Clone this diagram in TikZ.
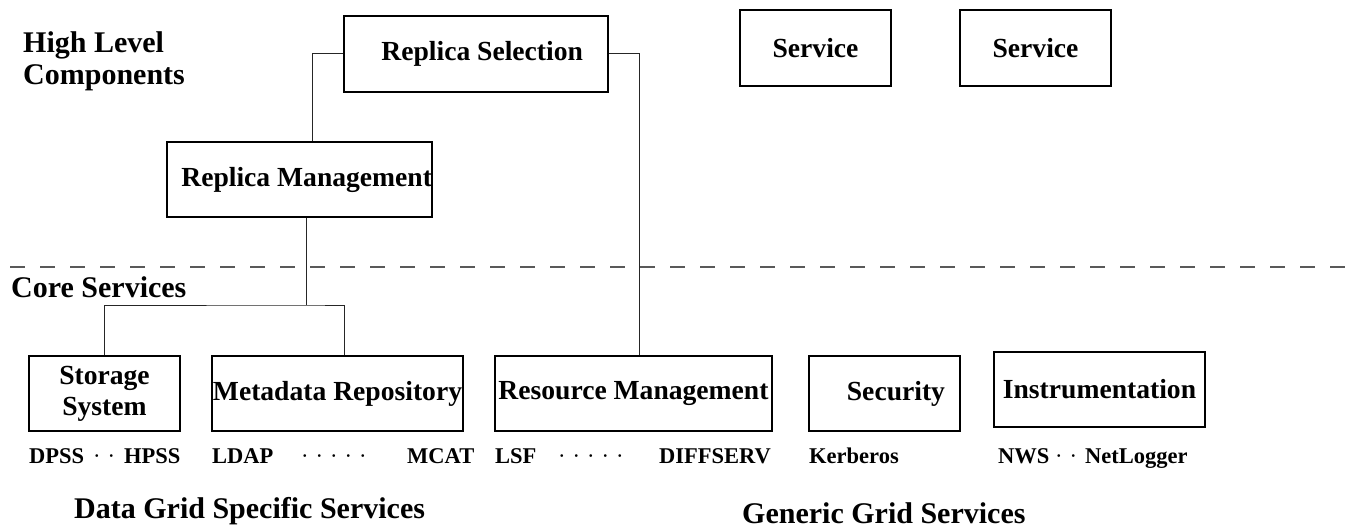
\documentclass[tikz,border=0pt]{standalone}
\usepackage{fontspec}
\setmainfont{Liberation Serif}
\newcommand{\dotgap}{\hspace{7pt}}
\begin{document}
\begin{tikzpicture}[x=1pt, y=-1pt,
  box/.style={draw, line width=1.2pt, inner sep=0pt, align=center, minimum height=75pt, font={\bfseries\fontsize{27.6}{31}\selectfont}},
  head/.style={anchor=base west, inner sep=0pt, align=left, font={\bfseries\fontsize{30}{32}\selectfont}},
  tool/.style={anchor=base west, inner sep=0pt, font={\bfseries\fontsize{22.5}{26}\selectfont}},
  dots/.style={anchor=base west, inner sep=0pt, font={\mdseries\fontsize{22.5}{26}\selectfont}},
  link/.style={line width=1pt, draw=black!85}]

\useasboundingbox (0,0) rectangle (1351,529);

\node[head] (hlc) at (23,85) {High Level\\Components};
\node[head] (core) at (11,298) {Core Services};
\node[head] (dgs) at (74,518) {Data Grid Specific Services};
\node[head] (ggs) at (742,523) {Generic Grid Services};

\node[box, minimum width=264pt, minimum height=76pt, text width=214pt, align=flush right] (sel) at (476,54) {Replica Selection};
\node[box, minimum width=151pt, minimum height=76pt] (srv1) at (815.5,48) {Service};
\node[box, minimum width=151pt, minimum height=76pt] (srv2) at (1035.5,48) {Service};
\node[box, minimum width=265pt, text width=265pt, align=flush right] (mgmt) at (299.5,179.5) {Replica Management};

\node[box, minimum width=151pt] (stor) at (104.5,393.5) {Storage\\System};
\node[box, minimum width=251pt] (meta) at (337.5,393.5) {Metadata Repository};
\node[box, minimum width=277pt] (res) at (633.5,393.5) {Resource Management};
\node[box, minimum width=151pt, text width=121pt, align=flush right] (sec) at (884.5,393.5) {Security};
\node[box, minimum width=211pt] (inst) at (1099.5,389.5) {Instrumentation};

\node[tool] (dpss) at (29,463) {DPSS};
\node[dots] (d1) at (93,463) {·\dotgap·};
\node[tool] (hpss) at (124,463) {HPSS};
\node[tool] (ldap) at (212,463) {LDAP};
\node[dots] (d2) at (301,463) {·\dotgap·\dotgap·\dotgap·\dotgap·};
\node[tool] (mcat) at (407,463) {MCAT};
\node[tool] (lsf) at (495,463) {LSF};
\node[dots] (d3) at (558,463) {·\dotgap·\dotgap·\dotgap·\dotgap·};
\node[tool] (diff) at (659,463) {DIFFSERV};
\node[tool] (kerb) at (809,463) {Kerberos};
\node[tool] (nws) at (998,463) {NWS};
\node[dots] (d4) at (1055,463) {·\dotgap·};
\node[tool] (netl) at (1085,463) {NetLogger};

\coordinate (split) at (306,305);
\coordinate (lineL) at (10,267);
\coordinate (lineR) at (1351,267);

\draw[line width=1.5pt, draw=black!65, dash pattern=on 15pt off 15pt] (lineL) -- (lineR);

\draw[link] (sel.west) -| ([xshift=12.5pt]mgmt.north);
\draw[link] (sel.east) -| ([xshift=5.5pt]res.north);
\draw[link] ([xshift=6.5pt]mgmt.south) -- (split);
\draw[link] (stor.north) |- (split) -| ([xshift=6.5pt]meta.north);

\end{tikzpicture}
\end{document}
